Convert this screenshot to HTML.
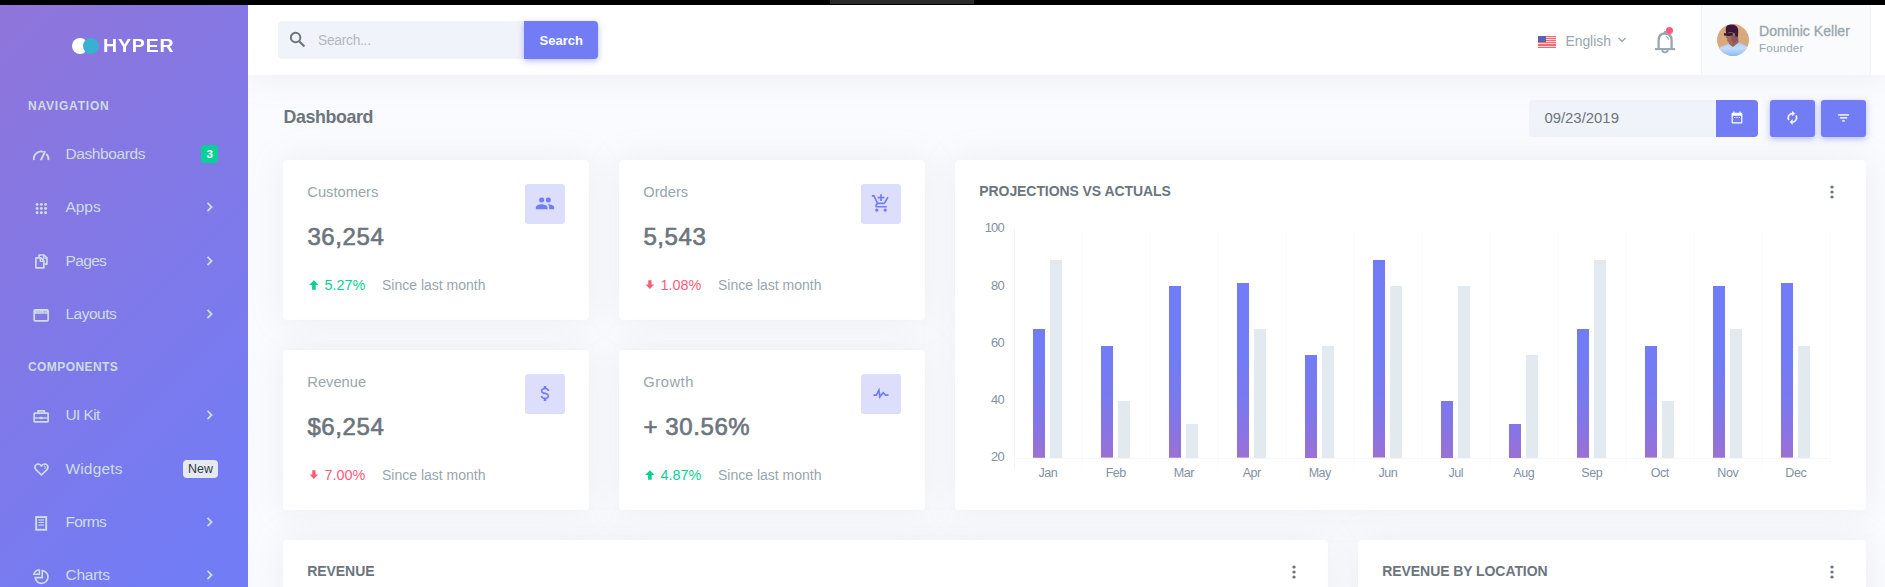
<!DOCTYPE html>
<html><head><meta charset="utf-8"><title>Hyper Dashboard</title>
<style>
*{box-sizing:border-box;margin:0;padding:0}
html,body{width:1885px;height:587px;overflow:hidden;background:#fafbfe;font-family:"Liberation Sans",sans-serif;}
.abs,.t{position:absolute}
.t{white-space:nowrap;line-height:1}
#blackbar{left:0;top:0;width:1885px;height:5px;background:#000}
#blackseg{left:830px;top:0;width:144px;height:4px;background:#2b2b2b}
#sideshadow{left:0;top:5px;width:248px;height:1000px;box-shadow:0 0 35px 0 rgba(154,161,171,.15)}
#sidebar{left:0;top:5px;width:248px;height:1000px;background:linear-gradient(135deg,#8f75da 0,#727cf5 60%)}
#topbar{left:248px;top:5px;width:1637px;height:70px;background:#fff;box-shadow:0 0 35px 0 rgba(154,161,171,.15)}
.card{background:#fff;border-radius:4px;box-shadow:0 0 35px 0 rgba(154,161,171,.15)}
.ibox{width:40px;height:40px;border-radius:3px;background:#dcdefc}
.btn{background:#727cf5;box-shadow:0 2px 6px 0 rgba(114,124,245,.5)}
svg{position:absolute;overflow:visible}
</style></head><body>

<div class="abs" id="topbar"></div>
<div class="abs" id="sidebar"></div>
<div class="abs" id="blackbar"></div><div class="abs" id="blackseg"></div>
<div class="abs" style="left:72px;top:38px;width:16px;height:16px;border-radius:50%;background:#fff"></div>
<div class="abs" style="left:83px;top:38px;width:16px;height:16px;border-radius:50%;background:#39afd1"></div>
<div class="t" style="left:103.0px;top:38.23px;font-size:17.8px;color:#fff;font-weight:700;letter-spacing:0.75px;transform:scaleX(1.1);transform-origin:0 0;">HYPER</div>
<div class="t" style="left:28px;top:99.84px;font-size:12px;color:#cedce4;font-weight:700;letter-spacing:0.8px;">NAVIGATION</div>
<div class="t" style="left:28px;top:360.84px;font-size:12px;color:#cedce4;font-weight:700;letter-spacing:0.42px;">COMPONENTS</div>
<div class="t" style="left:65.5px;top:145.88px;font-size:15.5px;color:#cedce4;font-weight:400;letter-spacing:-0.4px;">Dashboards</div>
<div class="t" style="left:65.5px;top:198.88px;font-size:15.5px;color:#cedce4;font-weight:400;letter-spacing:-0.04999999999999999px;">Apps</div>
<svg style="left:206.2px;top:201.9px" width="8" height="10" viewBox="0 0 8 10"><path d="M1.5 0.9 L5.6 5 L1.5 9.1" fill="none" stroke="#cedce4" stroke-width="1.8"/></svg>
<div class="t" style="left:65.5px;top:252.88px;font-size:15.5px;color:#cedce4;font-weight:400;letter-spacing:-0.65px;">Pages</div>
<svg style="left:206.2px;top:255.9px" width="8" height="10" viewBox="0 0 8 10"><path d="M1.5 0.9 L5.6 5 L1.5 9.1" fill="none" stroke="#cedce4" stroke-width="1.8"/></svg>
<div class="t" style="left:65.5px;top:305.88px;font-size:15.5px;color:#cedce4;font-weight:400;letter-spacing:-0.5px;">Layouts</div>
<svg style="left:206.2px;top:308.9px" width="8" height="10" viewBox="0 0 8 10"><path d="M1.5 0.9 L5.6 5 L1.5 9.1" fill="none" stroke="#cedce4" stroke-width="1.8"/></svg>
<div class="t" style="left:65.5px;top:406.88px;font-size:15.5px;color:#cedce4;font-weight:400;letter-spacing:-0.6px;">UI Kit</div>
<svg style="left:206.2px;top:409.9px" width="8" height="10" viewBox="0 0 8 10"><path d="M1.5 0.9 L5.6 5 L1.5 9.1" fill="none" stroke="#cedce4" stroke-width="1.8"/></svg>
<div class="t" style="left:65.5px;top:460.88px;font-size:15.5px;color:#cedce4;font-weight:400;letter-spacing:0.15000000000000002px;">Widgets</div>
<div class="t" style="left:65.5px;top:513.88px;font-size:15.5px;color:#cedce4;font-weight:400;letter-spacing:-0.65px;">Forms</div>
<svg style="left:206.2px;top:516.9px" width="8" height="10" viewBox="0 0 8 10"><path d="M1.5 0.9 L5.6 5 L1.5 9.1" fill="none" stroke="#cedce4" stroke-width="1.8"/></svg>
<div class="t" style="left:65.5px;top:566.88px;font-size:15.5px;color:#cedce4;font-weight:400;letter-spacing:-0.25px;">Charts</div>
<svg style="left:206.2px;top:569.9px" width="8" height="10" viewBox="0 0 8 10"><path d="M1.5 0.9 L5.6 5 L1.5 9.1" fill="none" stroke="#cedce4" stroke-width="1.8"/></svg>
<div class="abs" style="left:201px;top:145px;width:17.3px;height:17.7px;border-radius:3.5px;background:#0acf97"></div>
<div class="t" style="left:9.699999999999989px;width:400px;text-align:center;top:148.38px;font-size:11.6px;color:#fff;font-weight:700;letter-spacing:0px;">3</div>
<div class="abs" style="left:183px;top:460px;width:35px;height:18px;border-radius:4px;background:#e4eaf0"></div>
<div class="t" style="left:0.5px;width:400px;text-align:center;top:462.50px;font-size:12.4px;color:#313a46;font-weight:400;letter-spacing:0px;">New</div>
<svg style="left:30px;top:146px" width="24" height="18" viewBox="30 146 24 18"><path d="M33.9 160.2 A7.4 7.4 0 0 1 43.6 151.9" fill="none" stroke="#cedce4" stroke-width="1.8"/><path d="M46.3 154 A7.4 7.4 0 0 1 48.5 160.2" fill="none" stroke="#cedce4" stroke-width="1.8"/><path d="M39.7 160.2 L44.3 151 L46.1 151.6 L42 160.2 Z" fill="#cedce4"/></svg>
<svg style="left:30px;top:199px" width="24" height="18" viewBox="30 199 24 18"><g fill="#cedce4"><circle cx="37.1" cy="204.4" r="1.45"/><circle cx="37.1" cy="208.55" r="1.45"/><circle cx="37.1" cy="212.7" r="1.45"/><circle cx="41.35" cy="204.4" r="1.45"/><circle cx="41.35" cy="208.55" r="1.45"/><circle cx="41.35" cy="212.7" r="1.45"/><circle cx="45.6" cy="204.4" r="1.45"/><circle cx="45.6" cy="208.55" r="1.45"/><circle cx="45.6" cy="212.7" r="1.45"/></g></svg>
<svg style="left:30px;top:250px" width="24" height="22" viewBox="30 250 24 22"><g fill="none" stroke="#cedce4" stroke-width="1.7" stroke-linejoin="round"><path d="M35.9 257.9 L41 257.9 L43.9 260.8 L43.9 267.8 L35.9 267.8 Z"/><path d="M40.3 258 L40.3 261.4 L43.8 261.4" stroke-width="1.4"/><path d="M39 257 L39 255 L44 255 L46.9 257.9 L46.9 264.2 L44.6 264.2"/><path d="M43.6 255.2 L43.6 258.2 L46.8 258.2" stroke-width="1.3"/></g></svg>
<svg style="left:30px;top:305px" width="24" height="20" viewBox="30 305 24 20"><rect x="34.2" y="309.95" width="13.95" height="10.9" rx="1" fill="none" stroke="#cedce4" stroke-width="1.7"/><rect x="34.2" y="309.95" width="13.95" height="3.8" fill="#cedce4"/><rect x="36.4" y="311.4" width="1.2" height="1" fill="#a793ea"/><rect x="38.6" y="311.4" width="1.2" height="1" fill="#a793ea"/><rect x="40.8" y="311.4" width="1.2" height="1" fill="#a793ea"/><rect x="43.2" y="311.4" width="3.6" height="1" fill="#a793ea"/></svg>
<svg style="left:30px;top:406px" width="24" height="20" viewBox="30 406 24 20"><g fill="none" stroke="#cedce4" stroke-width="1.7"><rect x="34.2" y="413.15" width="13.95" height="8.7" rx="0.6"/><path d="M38.1 413 L38.1 410.9 L44.3 410.9 L44.3 413"/><path d="M34.5 418 L48 418" stroke-width="1.3"/></g><ellipse cx="41.2" cy="418" rx="1.9" ry="1.3" fill="#cedce4"/></svg>
<svg style="left:30px;top:460px" width="24" height="20" viewBox="30 460 24 20"><path d="M41.45 475 L35.9 469.6 C33.6 467 36 463.2 39.2 464.2 C40.2 464.5 40.9 465.2 41.45 466 C42 465.2 42.7 464.5 43.7 464.2 C46.9 463.2 49.3 467 47 469.6 Z" fill="none" stroke="#cedce4" stroke-width="1.7" stroke-linejoin="round"/><path d="M44 465.6 C45.3 466.2 45.6 467.6 44.8 468.8" fill="none" stroke="#cedce4" stroke-width="1"/></svg>
<svg style="left:30px;top:513px" width="24" height="20" viewBox="30 513 24 20"><rect x="36.15" y="517.05" width="10.05" height="12.7" fill="none" stroke="#cedce4" stroke-width="1.9"/><rect x="38.5" y="519.4" width="5.4" height="1.2" fill="#cedce4"/><rect x="38.5" y="521.9" width="5.4" height="1.1" fill="#cedce4"/><rect x="38.5" y="524.5" width="5.4" height="1.2" fill="#cedce4"/></svg>
<svg style="left:30px;top:566px" width="24" height="21" viewBox="30 566 24 21"><g fill="none" stroke="#cedce4" stroke-width="1.7"><path d="M42.3 570.6 A6.4 6.4 0 1 1 35.2 577.7 L42.3 577.7 Z" stroke-linejoin="miter"/><path d="M39.4 569.9 L39.4 574.2 L33.9 574.2 A5.6 5.6 0 0 1 39.4 569.9 Z" stroke-width="1.5"/></g></svg>
<div class="abs" style="left:278px;top:21px;width:246px;height:38px;border-radius:4px 0 0 4px;background:#f1f3fa"></div>
<div class="abs btn" style="left:524px;top:21px;width:74px;height:38px;border-radius:0 4px 4px 0"></div>
<div class="t" style="left:318px;top:33.62px;font-size:13.8px;color:#b2b8bf;font-weight:400;letter-spacing:-0.28px;">Search...</div>
<div class="t" style="left:539.6px;top:33.80px;font-size:13px;color:#fff;font-weight:700;letter-spacing:0px;">Search</div>
<svg style="left:289.2px;top:30.8px" width="17" height="17" viewBox="0 0 15 15"><circle cx="5.8" cy="5.8" r="4.2" fill="none" stroke="#6c757d" stroke-width="1.7"/><path d="M9 9 L13.6 13.6" stroke="#6c757d" stroke-width="1.9"/></svg>
<div class="abs" style="left:1538px;top:36px;width:18px;height:12.4px;background:repeating-linear-gradient(#f7656f 0,#f7656f 1px,#fcdcde 1px,#fcdcde 1.9px)"></div>
<div class="abs" style="left:1538px;top:36px;width:8px;height:6.4px;background:#5762b0"></div>
<div class="t" style="left:1565.4px;top:34.63px;font-size:13.9px;color:#98a6ad;font-weight:400;letter-spacing:0px;">English</div>
<svg style="left:1617px;top:36px" width="10" height="8" viewBox="0 0 10 8"><path d="M1.5 2 L5 5.5 L8.5 2" fill="none" stroke="#98a6ad" stroke-width="1.4"/></svg>
<svg style="left:1650px;top:26px" width="30" height="30" viewBox="1650 26 30 30"><g fill="none" stroke="#98a6ad"><path d="M1655 49.1 L1675.1 49.1" stroke-width="2.1"/><path d="M1658.6 48.6 L1658.6 40.4 C1658.6 35.6 1661.4 33.5 1665 33.5 C1668.6 33.5 1671.6 35.6 1671.6 40.4 L1671.6 48.6" stroke-width="2.3"/><path d="M1665 30.8 L1665 33.4" stroke-width="2.2"/><path d="M1662.2 50.2 C1662.6 53 1667.4 53 1667.8 50.2" stroke-width="1.8"/><path d="M1666.3 36.6 Q1668.4 37.4 1668.6 39.6" stroke-width="1.1"/></g></svg>
<div class="abs" style="left:1665.9px;top:26.9px;width:7px;height:7px;border-radius:50%;background:#fa5c7c"></div>
<div class="abs" style="left:1701px;top:5px;width:170px;height:70px;background:#fafbfd;border-left:1px solid #f1f3fa;border-right:1px solid #f1f3fa"></div>
<svg style="left:1717px;top:24px" width="32" height="32" viewBox="1717 24 32 32"><defs><clipPath id="av"><circle cx="1733" cy="40" r="16"/></clipPath><filter id="bl" x="-20%" y="-20%" width="140%" height="140%"><feGaussianBlur stdDeviation="0.6"/></filter><linearGradient id="sh" x1="0" y1="0" x2="0" y2="1"><stop offset="0" stop-color="#a4d1f8"/><stop offset="0.4" stop-color="#c2dcfb"/><stop offset="1" stop-color="#84b9f2"/></linearGradient></defs><g clip-path="url(#av)"><rect x="1717" y="24" width="32" height="32" fill="#d9a97e"/><g filter="url(#bl)"><path d="M1715 57 L1717 49.5 Q1721 46.6 1729 43.8 L1733 46.6 L1738.4 42.4 Q1743 43.6 1747 46.6 L1751 57 Z" fill="url(#sh)"/><path d="M1729.6 40.5 L1738 39 L1738.6 42.6 L1733 47 L1728.8 43.8 Z" fill="#a0645c"/><path d="M1726.4 33.4 L1737.4 32.6 L1738 40 L1733.6 43.2 L1728.6 42.4 L1727 40.4 L1727.4 38.6 L1725.6 37.4 L1726.6 35.8 Z" fill="#a5685e"/><path d="M1731.5 36 L1738 35 L1738.2 40.4 L1733.8 43.2 L1731.4 40 Z" fill="#8a545b"/><path d="M1723.8 33.3 L1732.8 33 L1732.6 35.4 L1728.8 36 L1724.2 35.4 Z" fill="#2a1b2c"/><path d="M1726.2 33.2 Q1724.8 27.6 1727.2 25.6 Q1731.6 23.6 1735.6 25.6 Q1738.6 27.6 1738.2 32 L1738 36.6 L1735.6 36.4 L1734.6 33 L1730 32.4 Z" fill="#3a193c"/></g></g></svg>
<div class="t" style="left:1759px;top:24.46px;font-size:14.1px;color:#98a6ad;font-weight:400;letter-spacing:0px;-webkit-text-stroke:0.3px #98a6ad;">Dominic Keller</div>
<div class="t" style="left:1759px;top:41.98px;font-size:11.6px;color:#98a6ad;font-weight:400;letter-spacing:0.2px;">Founder</div>
<div class="t" style="left:283.4px;top:108.83px;font-size:17.8px;color:#6c757d;font-weight:700;letter-spacing:-0.35px;">Dashboard</div>
<div class="abs" style="left:1529px;top:100px;width:187px;height:37px;border-radius:4px 0 0 4px;background:#f1f3fa"></div>
<div class="abs" style="left:1716px;top:100px;width:42px;height:37px;border-radius:0 4px 4px 0;background:#727cf5"></div>
<div class="abs btn" style="left:1770px;top:100px;width:45px;height:37px;border-radius:3px"></div>
<div class="abs btn" style="left:1821px;top:100px;width:45px;height:37px;border-radius:3px"></div>
<div class="t" style="left:1544.4px;top:110.99px;font-size:14.9px;color:#6c757d;font-weight:400;letter-spacing:0px;">09/23/2019</div>
<svg style="left:0;top:0" width="1" height="1"><path transform="translate(1729.8,110.9) scale(0.6)" d="M9,10H7V12H9V10M13,10H11V12H13V10M17,10H15V12H17V10M19,3H18V1H16V3H8V1H6V3H5C3.89,3 3,3.9 3,5V19A2,2 0 0,0 5,21H19A2,2 0 0,0 21,19V5A2,2 0 0,0 19,3M19,19H5V8H19V19Z" fill="#fff"/></svg>
<svg style="left:0;top:0" width="1" height="1"><path transform="translate(1785.2,110.6) scale(0.6)" stroke="#fff" stroke-width="0.7" d="M12,6V9L16,5L12,1V4A8,8 0 0,0 4,12C4,13.57 4.46,15.03 5.24,16.26L6.7,14.8C6.25,13.97 6,13 6,12A6,6 0 0,1 12,6M18.76,7.74L17.3,9.2C17.74,10.04 18,11 18,12A6,6 0 0,1 12,18V15L8,19L12,23V20A8,8 0 0,0 20,12C20,10.43 19.54,8.97 18.76,7.74Z" fill="#fff"/></svg>
<svg style="left:0;top:0" width="1" height="1"><path transform="translate(1836.3,110.6) scale(0.6)" stroke="#fff" stroke-width="0.4" d="M6,13H18V11H6M3,6V8H21V6M10,18H14V16H10V18Z" fill="#fff"/></svg>
<div class="abs card" style="left:283px;top:160px;width:306px;height:160px"></div>
<div class="t" style="left:307.3px;top:184.56px;font-size:14.7px;color:#98a6ad;font-weight:400;letter-spacing:0px;">Customers</div>
<div class="t" style="left:307.4px;top:224.88px;font-size:24px;color:#6c757d;font-weight:400;letter-spacing:0.6px;-webkit-text-stroke:0.65px #6c757d;">36,254</div>
<div class="abs ibox" style="left:525px;top:184px"></div>
<svg style="left:525px;top:184px" width="40" height="40" viewBox="0 0 40 40"><path transform="translate(10,9.4) scale(0.8333)" d="M16,13C15.71,13 15.38,13 15.03,13.05C16.19,13.89 17,15 17,16.5V19H23V16.5C23,14.17 18.33,13 16,13M8,13C5.67,13 1,14.17 1,16.5V19H15V16.5C15,14.17 10.33,13 8,13M8,11A3,3 0 0,0 11,8A3,3 0 0,0 8,5A3,3 0 0,0 5,8A3,3 0 0,0 8,11M16,11A3,3 0 0,0 19,8A3,3 0 0,0 16,5A3,3 0 0,0 13,8A3,3 0 0,0 16,11Z" fill="#727cf5"/></svg>
<svg style="left:283px;top:160px" width="60" height="140"><path transform="translate(23.7,117.7) scale(0.6)" d="M15,20H9V12H4.16L12,4.16L19.84,12H15V20Z" fill="#0acf97"/></svg>
<div class="t" style="left:324.6px;top:278.21px;font-size:14.4px;color:#0acf97;font-weight:400;letter-spacing:0px;">5.27%</div>
<div class="t" style="left:382px;top:277.95px;font-size:14px;color:#98a6ad;font-weight:400;letter-spacing:0px;">Since last month</div>
<div class="abs card" style="left:619px;top:160px;width:306px;height:160px"></div>
<div class="t" style="left:643.3px;top:184.56px;font-size:14.7px;color:#98a6ad;font-weight:400;letter-spacing:0px;">Orders</div>
<div class="t" style="left:643.4px;top:224.88px;font-size:24px;color:#6c757d;font-weight:400;letter-spacing:0.6px;-webkit-text-stroke:0.65px #6c757d;">5,543</div>
<div class="abs ibox" style="left:861px;top:184px"></div>
<svg style="left:861px;top:184px" width="40" height="40" viewBox="0 0 40 40"><path transform="translate(10,9.4) scale(0.8333)" d="M11,9H13V6H16V4H13V1H11V4H8V6H11M7,18A2,2 0 0,0 5,20A2,2 0 0,0 7,22A2,2 0 0,0 9,20A2,2 0 0,0 7,18M17,18A2,2 0 0,0 15,20A2,2 0 0,0 17,22A2,2 0 0,0 19,20A2,2 0 0,0 17,18M7.17,14.75L7.2,14.63L8.1,13H15.55C16.3,13 16.96,12.59 17.3,11.97L21.16,4.96L19.42,4H19.41L18.31,6L15.55,11H8.53L8.4,10.73L6.16,6L5.21,4L4.27,2H1V4H3L6.6,11.59L5.25,14.04C5.09,14.32 5,14.65 5,15A2,2 0 0,0 7,17H19V15H7.42C7.29,15 7.17,14.89 7.17,14.75Z" fill="#727cf5"/></svg>
<svg style="left:619px;top:160px" width="60" height="140"><path transform="translate(24.3,118) scale(0.55)" d="M9,4H15V12H19.84L12,19.84L4.16,12H9V4Z" fill="#fa5c7c"/></svg>
<div class="t" style="left:660.6px;top:278.21px;font-size:14.4px;color:#fa5c7c;font-weight:400;letter-spacing:0px;">1.08%</div>
<div class="t" style="left:718px;top:277.95px;font-size:14px;color:#98a6ad;font-weight:400;letter-spacing:0px;">Since last month</div>
<div class="abs card" style="left:283px;top:350px;width:306px;height:160px"></div>
<div class="t" style="left:307.3px;top:374.56px;font-size:14.7px;color:#98a6ad;font-weight:400;letter-spacing:0px;">Revenue</div>
<div class="t" style="left:307.4px;top:414.88px;font-size:24px;color:#6c757d;font-weight:400;letter-spacing:0.6px;-webkit-text-stroke:0.65px #6c757d;">$6,254</div>
<div class="abs ibox" style="left:525px;top:374px"></div>
<svg style="left:525px;top:374px" width="40" height="40" viewBox="0 0 40 40"><path transform="translate(10,9.4) scale(0.8333)" d="M7,15H9C9,16.08 10.37,17 12,17C13.63,17 15,16.08 15,15C15,13.9 13.96,13.5 11.76,12.97C9.64,12.44 7,11.78 7,9C7,7.21 8.47,5.69 10.5,5.18V3H13.5V5.18C15.53,5.69 17,7.21 17,9H15C15,7.92 13.63,7 12,7C10.37,7 9,7.92 9,9C9,10.1 10.04,10.5 12.24,11.03C14.36,11.56 17,12.22 17,15C17,16.79 15.53,18.31 13.5,18.82V21H10.5V18.82C8.47,18.31 7,16.79 7,15Z" fill="#727cf5"/></svg>
<svg style="left:283px;top:350px" width="60" height="140"><path transform="translate(24.3,118) scale(0.55)" d="M9,4H15V12H19.84L12,19.84L4.16,12H9V4Z" fill="#fa5c7c"/></svg>
<div class="t" style="left:324.6px;top:468.21px;font-size:14.4px;color:#fa5c7c;font-weight:400;letter-spacing:0px;">7.00%</div>
<div class="t" style="left:382px;top:467.95px;font-size:14px;color:#98a6ad;font-weight:400;letter-spacing:0px;">Since last month</div>
<div class="abs card" style="left:619px;top:350px;width:306px;height:160px"></div>
<div class="t" style="left:643.3px;top:374.56px;font-size:14.7px;color:#98a6ad;font-weight:400;letter-spacing:0.55px;">Growth</div>
<div class="t" style="left:643.4px;top:414.88px;font-size:24px;color:#6c757d;font-weight:400;letter-spacing:0.6px;-webkit-text-stroke:0.65px #6c757d;">+ 30.56%</div>
<div class="abs ibox" style="left:861px;top:374px"></div>
<svg style="left:861px;top:374px" width="40" height="40" viewBox="0 0 40 40"><path transform="translate(10,9.4) scale(0.8333)" d="M3,13H5.79L10.1,4.79L11.28,13.75L14.5,9.66L17.83,13H21V15H17L14.67,12.67L9.92,18.73L8.94,11.31L7,15H3V13Z" fill="#727cf5"/></svg>
<svg style="left:619px;top:350px" width="60" height="140"><path transform="translate(23.7,117.7) scale(0.6)" d="M15,20H9V12H4.16L12,4.16L19.84,12H15V20Z" fill="#0acf97"/></svg>
<div class="t" style="left:660.6px;top:468.21px;font-size:14.4px;color:#0acf97;font-weight:400;letter-spacing:0px;">4.87%</div>
<div class="t" style="left:718px;top:467.95px;font-size:14px;color:#98a6ad;font-weight:400;letter-spacing:0px;">Since last month</div>
<div class="abs card" style="left:955px;top:160px;width:911px;height:350px"></div>
<div class="t" style="left:979.3px;top:184.35px;font-size:14px;color:#6c757d;font-weight:700;letter-spacing:-0.08px;">PROJECTIONS VS ACTUALS</div>
<svg style="left:1827px;top:181.8px" width="10" height="20" viewBox="-5 -10 10 20"><ellipse cx="0" cy="-5.05" rx="1.7" ry="1.55" fill="#6c757d"/><ellipse cx="0" cy="0" rx="1.7" ry="1.55" fill="#6c757d"/><ellipse cx="0" cy="5.05" rx="1.7" ry="1.55" fill="#6c757d"/></svg>
<div class="abs" style="left:1013.9px;top:229px;width:1px;height:239px;background:#f2f3f7"></div>
<div class="abs" style="left:1081.9px;top:229px;width:1px;height:239px;background:#fafbfd"></div>
<div class="abs" style="left:1149.9px;top:229px;width:1px;height:239px;background:#fafbfd"></div>
<div class="abs" style="left:1217.9px;top:229px;width:1px;height:239px;background:#fafbfd"></div>
<div class="abs" style="left:1285.9px;top:229px;width:1px;height:239px;background:#fafbfd"></div>
<div class="abs" style="left:1353.9px;top:229px;width:1px;height:239px;background:#fafbfd"></div>
<div class="abs" style="left:1421.9px;top:229px;width:1px;height:239px;background:#fafbfd"></div>
<div class="abs" style="left:1489.9px;top:229px;width:1px;height:239px;background:#fafbfd"></div>
<div class="abs" style="left:1557.9px;top:229px;width:1px;height:239px;background:#fafbfd"></div>
<div class="abs" style="left:1625.9px;top:229px;width:1px;height:239px;background:#fafbfd"></div>
<div class="abs" style="left:1693.9px;top:229px;width:1px;height:239px;background:#fafbfd"></div>
<div class="abs" style="left:1761.9px;top:229px;width:1px;height:239px;background:#fafbfd"></div>
<div class="abs" style="left:1829.9px;top:229px;width:1px;height:239px;background:#fafbfd"></div>
<div class="abs" style="left:1014.4px;top:458px;width:816px;height:1px;background:#f5f6fa"></div>
<div class="t" style="left:603.9px;width:400px;text-align:right;top:222.08px;font-size:12.9px;color:#8290a4;font-weight:400;letter-spacing:-0.75px;">100</div>
<div class="t" style="left:603.9px;width:400px;text-align:right;top:279.93px;font-size:12.9px;color:#8290a4;font-weight:400;letter-spacing:-0.75px;">80</div>
<div class="t" style="left:603.9px;width:400px;text-align:right;top:336.58px;font-size:12.9px;color:#8290a4;font-weight:400;letter-spacing:-0.75px;">60</div>
<div class="t" style="left:603.9px;width:400px;text-align:right;top:393.83px;font-size:12.9px;color:#8290a4;font-weight:400;letter-spacing:-0.75px;">40</div>
<div class="t" style="left:603.9px;width:400px;text-align:right;top:451.08px;font-size:12.9px;color:#8290a4;font-weight:400;letter-spacing:-0.75px;">20</div>
<div class="abs" style="left:1033.2px;top:329.19px;width:12px;height:128.81px;background:linear-gradient(#727cf5 0,#727cf5 57%,#7b79ee 75%,#8575e5 86%,#9a71d5 100%) 0 100%/12px 229px no-repeat"></div>
<div class="abs" style="left:1050.2px;top:260.49px;width:12px;height:197.51px;background:#e3eaef"></div>
<div class="t" style="left:847.8px;width:400px;text-align:center;top:466.82px;font-size:12.5px;color:#8290a4;font-weight:400;letter-spacing:-0.45px;">Jan</div>
<div class="abs" style="left:1101.2px;top:346.36px;width:12px;height:111.64px;background:linear-gradient(#727cf5 0,#727cf5 57%,#7b79ee 75%,#8575e5 86%,#9a71d5 100%) 0 100%/12px 229px no-repeat"></div>
<div class="abs" style="left:1118.2px;top:400.75px;width:12px;height:57.25px;background:#e3eaef"></div>
<div class="t" style="left:915.8000000000002px;width:400px;text-align:center;top:466.82px;font-size:12.5px;color:#8290a4;font-weight:400;letter-spacing:-0.45px;">Feb</div>
<div class="abs" style="left:1169.2px;top:286.25px;width:12px;height:171.75px;background:linear-gradient(#727cf5 0,#727cf5 57%,#7b79ee 75%,#8575e5 86%,#9a71d5 100%) 0 100%/12px 229px no-repeat"></div>
<div class="abs" style="left:1186.2px;top:423.65px;width:12px;height:34.35px;background:#e3eaef"></div>
<div class="t" style="left:983.8000000000002px;width:400px;text-align:center;top:466.82px;font-size:12.5px;color:#8290a4;font-weight:400;letter-spacing:-0.45px;">Mar</div>
<div class="abs" style="left:1237.2px;top:283.39px;width:12px;height:174.61px;background:linear-gradient(#727cf5 0,#727cf5 57%,#7b79ee 75%,#8575e5 86%,#9a71d5 100%) 0 100%/12px 229px no-repeat"></div>
<div class="abs" style="left:1254.2px;top:329.19px;width:12px;height:128.81px;background:#e3eaef"></div>
<div class="t" style="left:1051.8000000000002px;width:400px;text-align:center;top:466.82px;font-size:12.5px;color:#8290a4;font-weight:400;letter-spacing:-0.45px;">Apr</div>
<div class="abs" style="left:1305.2px;top:354.95px;width:12px;height:103.05px;background:linear-gradient(#727cf5 0,#727cf5 57%,#7b79ee 75%,#8575e5 86%,#9a71d5 100%) 0 100%/12px 229px no-repeat"></div>
<div class="abs" style="left:1322.2px;top:346.36px;width:12px;height:111.64px;background:#e3eaef"></div>
<div class="t" style="left:1119.8000000000002px;width:400px;text-align:center;top:466.82px;font-size:12.5px;color:#8290a4;font-weight:400;letter-spacing:-0.45px;">May</div>
<div class="abs" style="left:1373.2px;top:260.49px;width:12px;height:197.51px;background:linear-gradient(#727cf5 0,#727cf5 57%,#7b79ee 75%,#8575e5 86%,#9a71d5 100%) 0 100%/12px 229px no-repeat"></div>
<div class="abs" style="left:1390.2px;top:286.25px;width:12px;height:171.75px;background:#e3eaef"></div>
<div class="t" style="left:1187.8000000000002px;width:400px;text-align:center;top:466.82px;font-size:12.5px;color:#8290a4;font-weight:400;letter-spacing:-0.45px;">Jun</div>
<div class="abs" style="left:1441.2px;top:400.75px;width:12px;height:57.25px;background:linear-gradient(#727cf5 0,#727cf5 57%,#7b79ee 75%,#8575e5 86%,#9a71d5 100%) 0 100%/12px 229px no-repeat"></div>
<div class="abs" style="left:1458.2px;top:286.25px;width:12px;height:171.75px;background:#e3eaef"></div>
<div class="t" style="left:1255.8000000000002px;width:400px;text-align:center;top:466.82px;font-size:12.5px;color:#8290a4;font-weight:400;letter-spacing:-0.45px;">Jul</div>
<div class="abs" style="left:1509.2px;top:423.65px;width:12px;height:34.35px;background:linear-gradient(#727cf5 0,#727cf5 57%,#7b79ee 75%,#8575e5 86%,#9a71d5 100%) 0 100%/12px 229px no-repeat"></div>
<div class="abs" style="left:1526.2px;top:354.95px;width:12px;height:103.05px;background:#e3eaef"></div>
<div class="t" style="left:1323.8000000000002px;width:400px;text-align:center;top:466.82px;font-size:12.5px;color:#8290a4;font-weight:400;letter-spacing:-0.45px;">Aug</div>
<div class="abs" style="left:1577.2px;top:329.19px;width:12px;height:128.81px;background:linear-gradient(#727cf5 0,#727cf5 57%,#7b79ee 75%,#8575e5 86%,#9a71d5 100%) 0 100%/12px 229px no-repeat"></div>
<div class="abs" style="left:1594.2px;top:260.49px;width:12px;height:197.51px;background:#e3eaef"></div>
<div class="t" style="left:1391.8000000000002px;width:400px;text-align:center;top:466.82px;font-size:12.5px;color:#8290a4;font-weight:400;letter-spacing:-0.45px;">Sep</div>
<div class="abs" style="left:1645.2px;top:346.36px;width:12px;height:111.64px;background:linear-gradient(#727cf5 0,#727cf5 57%,#7b79ee 75%,#8575e5 86%,#9a71d5 100%) 0 100%/12px 229px no-repeat"></div>
<div class="abs" style="left:1662.2px;top:400.75px;width:12px;height:57.25px;background:#e3eaef"></div>
<div class="t" style="left:1459.8000000000002px;width:400px;text-align:center;top:466.82px;font-size:12.5px;color:#8290a4;font-weight:400;letter-spacing:-0.45px;">Oct</div>
<div class="abs" style="left:1713.2px;top:286.25px;width:12px;height:171.75px;background:linear-gradient(#727cf5 0,#727cf5 57%,#7b79ee 75%,#8575e5 86%,#9a71d5 100%) 0 100%/12px 229px no-repeat"></div>
<div class="abs" style="left:1730.2px;top:329.19px;width:12px;height:128.81px;background:#e3eaef"></div>
<div class="t" style="left:1527.8000000000002px;width:400px;text-align:center;top:466.82px;font-size:12.5px;color:#8290a4;font-weight:400;letter-spacing:-0.45px;">Nov</div>
<div class="abs" style="left:1781.2px;top:283.39px;width:12px;height:174.61px;background:linear-gradient(#727cf5 0,#727cf5 57%,#7b79ee 75%,#8575e5 86%,#9a71d5 100%) 0 100%/12px 229px no-repeat"></div>
<div class="abs" style="left:1798.2px;top:346.36px;width:12px;height:111.64px;background:#e3eaef"></div>
<div class="t" style="left:1595.8000000000002px;width:400px;text-align:center;top:466.82px;font-size:12.5px;color:#8290a4;font-weight:400;letter-spacing:-0.45px;">Dec</div>
<div class="abs card" style="left:283px;top:540px;width:1045px;height:80px"></div>
<div class="abs card" style="left:1358px;top:540px;width:508px;height:80px"></div>
<div class="t" style="left:307.3px;top:564.35px;font-size:14px;color:#6c757d;font-weight:700;letter-spacing:-0.08px;">REVENUE</div>
<div class="t" style="left:1382.3px;top:564.35px;font-size:14px;color:#6c757d;font-weight:700;letter-spacing:-0.08px;">REVENUE BY LOCATION</div>
<svg style="left:1289.2px;top:561.8px" width="10" height="20" viewBox="-5 -10 10 20"><ellipse cx="0" cy="-5.05" rx="1.7" ry="1.55" fill="#6c757d"/><ellipse cx="0" cy="0" rx="1.7" ry="1.55" fill="#6c757d"/><ellipse cx="0" cy="5.05" rx="1.7" ry="1.55" fill="#6c757d"/></svg>
<svg style="left:1827px;top:561.8px" width="10" height="20" viewBox="-5 -10 10 20"><ellipse cx="0" cy="-5.05" rx="1.7" ry="1.55" fill="#6c757d"/><ellipse cx="0" cy="0" rx="1.7" ry="1.55" fill="#6c757d"/><ellipse cx="0" cy="5.05" rx="1.7" ry="1.55" fill="#6c757d"/></svg>
</body></html>
